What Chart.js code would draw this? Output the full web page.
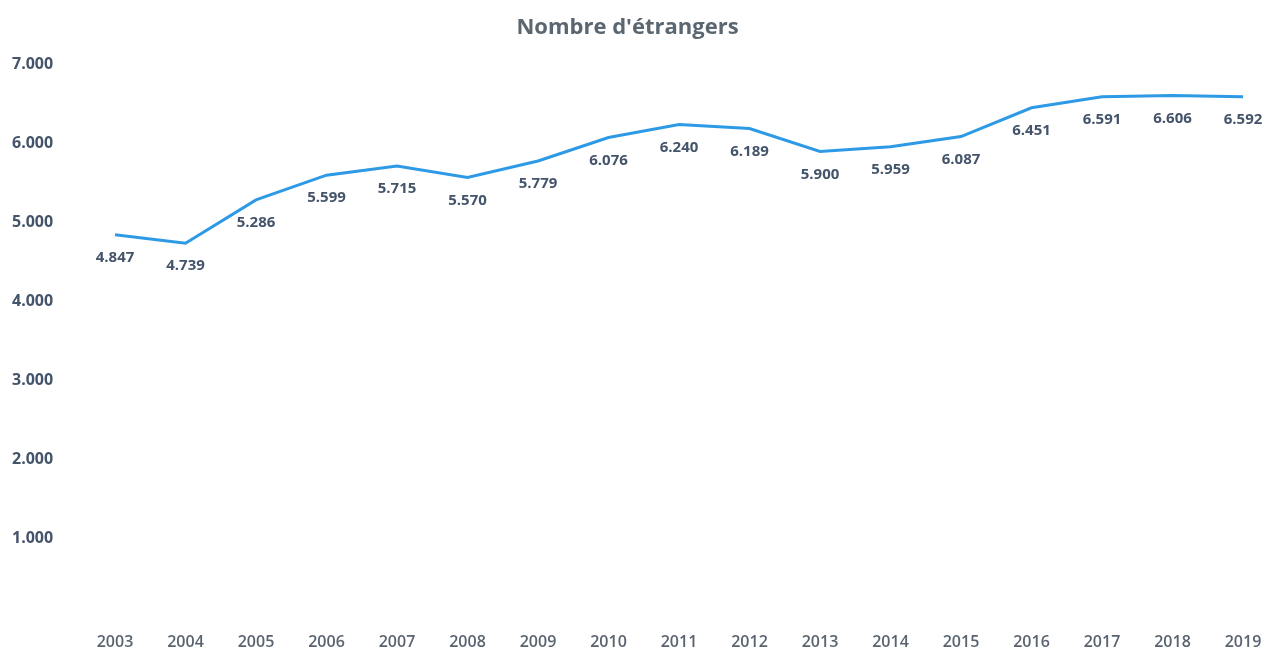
<!DOCTYPE html>
<html>
<head>
<meta charset="utf-8">
<script src="https://cdn.jsdelivr.net/npm/chart.js@4"></script>
<style>
html,body{margin:0;padding:0;background:#fff;}
#wrap{width:1277px;height:650px;position:relative;}
</style>
</head>
<body>
<div id="wrap"><canvas id="c" width="1277" height="650"></canvas></div>
<script>
const years = ['2003','2004','2005','2006','2007','2008','2009','2010','2011','2012','2013','2014','2015','2016','2017','2018','2019'];
const foreigners = [4847,4739,5286,5599,5715,5570,5779,6076,6240,6189,5900,5959,6087,6451,6591,6606,6592];
const chartTitle = "Nombre d'étrangers";

function fmt(v){ return String(v).replace(/\B(?=(\d{3})+(?!\d))/g,'.'); }

const labelPlugin = {
  id:'pointLabels',
  afterDatasetsDraw(chart){
    const ctx = chart.ctx;
    const meta = chart.getDatasetMeta(0);
    ctx.save();
    ctx.font = 'bold 15px "Open Sans"';
    ctx.fillStyle = '#44546a';
    ctx.textAlign = 'center';
    ctx.textBaseline = 'middle';
    meta.data.forEach((pt,i)=>{
      ctx.fillText(fmt(foreigners[i]), pt.x, pt.y + 23);
    });
    ctx.restore();
  }
};

new Chart(document.getElementById('c'), {
  type:'line',
  data:{
    labels: years,
    datasets:[{
      data: foreigners,
      borderColor:'#2e9ae6',
      borderWidth:3,
      pointRadius:0,
      tension:0,
      fill:false
    }]
  },
  options:{
    responsive:false,
    animation:false,
    layout:{padding:{left:12,right:34,top:0,bottom:0}},
    plugins:{
      legend:{display:false},
      tooltip:{enabled:false},
      title:{
        display:true,
        text: chartTitle,
        color:'#5b6770',
        font:{family:'"Open Sans"',size:22,weight:'bold'},
        padding:{top:15,bottom:23}
      }
    },
    scales:{
      x:{
        offset:false,
        grid:{display:false},
        border:{display:false},
        ticks:{color:'#5a6470',font:{family:'"Open Sans"',size:16,weight:'600'},padding:7,maxRotation:0,autoSkip:false},
        afterFit(s){ s.height = 32; }
      },
      y:{
        min:0,max:7000,
        grid:{display:false},
        border:{display:false},
        ticks:{
          stepSize:1000,
          color:'#44546a',
          crossAlign:'far',
          font:{family:'"Open Sans"',size:16,weight:'bold'},
          callback:(v)=> v===0 ? '' : fmt(v)
        },
        afterFit(s){ s.width = 103; }
      }
    }
  },
  plugins:[labelPlugin]
});
</script>
</body>
</html>
